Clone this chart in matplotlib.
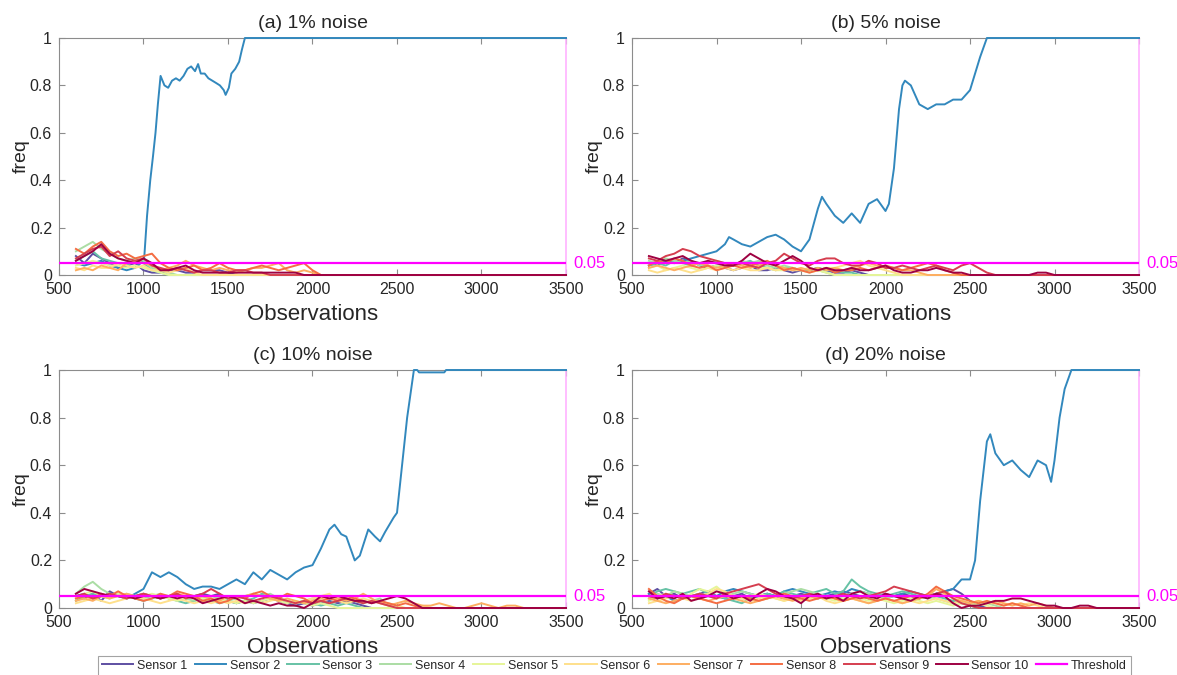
import numpy as np
import matplotlib
matplotlib.use("Agg")
import matplotlib.pyplot as plt

plt.rcParams["font.family"] = ["Liberation Sans", "DejaVu Sans"]

# ---------------------------------------------------------------- data
titles = ["(a) 1% noise", "(b) 5% noise", "(c) 10% noise", "(d) 20% noise"]
sensor_labels = [f"Sensor {i}" for i in range(1, 11)]
sensor_colors = ["#5e4fa2", "#3288bd", "#66c2a5", "#abdda4", "#e6f598",
                 "#fee08b", "#fdae61", "#f46d43", "#d53e4f", "#9e0142"]
threshold = 0.05
obs_start, obs_step, obs_end = 600, 50, 3500

# Sensor 2 (the faulty sensor), explicit observation / frequency pairs
a_s2_obs = [600, 650, 700, 750, 800, 850, 900, 950, 1000, 1005, 1021, 1040, 1056, 1071,
            1085, 1101, 1124, 1146, 1169, 1192, 1214, 1237, 1260, 1282, 1305, 1323, 1339,
            1362, 1384, 1407, 1430, 1452, 1475, 1486, 1505, 1520, 1543, 1566, 1582, 1600, 3500]
a_s2_freq = [0.05, 0.04, 0.05, 0.06, 0.04, 0.03, 0.02, 0.03, 0.06, 0.08, 0.25, 0.40, 0.50, 0.60,
             0.72, 0.84, 0.80, 0.79, 0.82, 0.83, 0.82, 0.84, 0.87, 0.88, 0.86, 0.89, 0.85,
             0.85, 0.83, 0.82, 0.81, 0.80, 0.78, 0.76, 0.79, 0.85, 0.87, 0.90, 0.95, 1.0, 1.0]

b_s2_obs = [600, 650, 700, 750, 800, 850, 900, 950, 1000, 1050, 1074, 1100, 1150, 1200, 1250,
            1300, 1350, 1400, 1450, 1500, 1550, 1600, 1624, 1650, 1700, 1750, 1800, 1850,
            1900, 1950, 2000, 2020, 2050, 2080, 2100, 2115, 2150, 2200, 2250, 2300, 2350,
            2400, 2450, 2500, 2530, 2560, 2600, 3500]
b_s2_freq = [0.04, 0.05, 0.06, 0.05, 0.06, 0.07, 0.08, 0.09, 0.10, 0.13, 0.16, 0.15, 0.13, 0.12,
             0.14, 0.16, 0.17, 0.15, 0.12, 0.10, 0.15, 0.28, 0.33, 0.30, 0.25, 0.22, 0.26, 0.22,
             0.30, 0.32, 0.27, 0.30, 0.45, 0.70, 0.80, 0.82, 0.80, 0.72, 0.70, 0.72, 0.72,
             0.74, 0.74, 0.78, 0.85, 0.92, 1.0, 1.0]

c_s2_obs = [600, 650, 700, 750, 800, 850, 900, 950, 1000, 1050, 1100, 1150, 1200, 1250, 1300,
            1350, 1400, 1450, 1500, 1550, 1600, 1650, 1700, 1750, 1800, 1850, 1900, 1950,
            2000, 2050, 2100, 2130, 2170, 2200, 2250, 2280, 2330, 2370, 2400, 2430, 2480,
            2500, 2530, 2560, 2600, 2620, 2630, 2780, 2790, 3500]
c_s2_freq = [0.05, 0.06, 0.04, 0.05, 0.06, 0.05, 0.04, 0.06, 0.08, 0.15, 0.13, 0.15, 0.13, 0.10,
             0.08, 0.09, 0.09, 0.08, 0.10, 0.12, 0.10, 0.15, 0.12, 0.16, 0.14, 0.12, 0.15, 0.17,
             0.18, 0.25, 0.33, 0.35, 0.31, 0.30, 0.20, 0.22, 0.33, 0.30, 0.28, 0.32, 0.38,
             0.40, 0.60, 0.80, 1.0, 1.0, 0.99, 0.99, 1.0, 1.0]

d_s2_obs = [600, 650, 700, 750, 800, 850, 900, 950, 1000, 1050, 1100, 1150, 1200, 1250, 1300,
            1350, 1400, 1450, 1500, 1550, 1600, 1650, 1700, 1750, 1800, 1850, 1900, 1950,
            2000, 2050, 2100, 2150, 2200, 2250, 2300, 2350, 2400, 2450, 2500, 2530, 2560,
            2600, 2620, 2650, 2700, 2750, 2800, 2850, 2900, 2950, 2980, 3000, 3030, 3060,
            3100, 3500]
d_s2_freq = [0.06, 0.04, 0.05, 0.03, 0.04, 0.05, 0.04, 0.06, 0.05, 0.07, 0.08, 0.07, 0.06, 0.05,
             0.06, 0.05, 0.07, 0.08, 0.07, 0.06, 0.05, 0.06, 0.07, 0.06, 0.08, 0.07, 0.06, 0.05,
             0.04, 0.05, 0.06, 0.07, 0.06, 0.05, 0.06, 0.07, 0.08, 0.12, 0.12, 0.20, 0.45,
             0.70, 0.73, 0.65, 0.60, 0.62, 0.58, 0.55, 0.62, 0.60, 0.53, 0.62, 0.80, 0.92,
             1.0, 1.0]

# Remaining sensors (1, 3..10), sampled every 50 observations from 600;
# each series is 0 after its last listed value.
a_others = [
    [0.08, 0.05, 0.09, 0.07, 0.05, 0.03, 0.04, 0.05, 0.02, 0.01, 0.01, 0.02, 0.02, 0.01, 0.01,
     0.02, 0.02, 0.02, 0.01, 0.0],
    [0.06, 0.08, 0.10, 0.07, 0.06, 0.05, 0.04, 0.06, 0.05, 0.02, 0.01, 0.0],
    [0.10, 0.12, 0.14, 0.11, 0.09, 0.07, 0.06, 0.07, 0.06, 0.03, 0.02, 0.01, 0.0],
    [0.04, 0.05, 0.06, 0.05, 0.04, 0.04, 0.03, 0.04, 0.03, 0.02, 0.01, 0.0],
    [0.03, 0.02, 0.04, 0.03, 0.03, 0.05, 0.04, 0.03, 0.04, 0.02, 0.02, 0.01, 0.02, 0.03, 0.01,
     0.0],
    [0.02, 0.03, 0.02, 0.04, 0.03, 0.02, 0.05, 0.06, 0.05, 0.04, 0.02, 0.03, 0.04, 0.06, 0.04,
     0.03, 0.02, 0.03, 0.02, 0.01, 0.02, 0.03, 0.03, 0.04, 0.05, 0.02, 0.01, 0.02, 0.01, 0.0],
    [0.11, 0.09, 0.12, 0.14, 0.10, 0.08, 0.09, 0.07, 0.08, 0.09, 0.05, 0.03, 0.02, 0.03, 0.04,
     0.02, 0.03, 0.05, 0.03, 0.02, 0.02, 0.03, 0.04, 0.03, 0.02, 0.03, 0.04, 0.05, 0.02, 0.0],
    [0.07, 0.09, 0.11, 0.12, 0.08, 0.10, 0.07, 0.06, 0.07, 0.04, 0.03, 0.02, 0.03, 0.02, 0.01,
     0.02, 0.02, 0.01, 0.01, 0.02, 0.02, 0.01, 0.01, 0.0],
    [0.06, 0.08, 0.10, 0.13, 0.09, 0.07, 0.06, 0.05, 0.07, 0.05, 0.02, 0.02, 0.03, 0.04, 0.02,
     0.01, 0.01, 0.01, 0.01, 0.01, 0.01, 0.01, 0.01, 0.01, 0.01, 0.01, 0.01, 0.0],
]

b_others = [
    [0.05, 0.04, 0.06, 0.05, 0.07, 0.06, 0.04, 0.03, 0.04, 0.03, 0.02, 0.03, 0.04, 0.02, 0.02,
     0.03, 0.02, 0.01, 0.02, 0.02, 0.03, 0.02, 0.01, 0.01, 0.02, 0.01, 0.0],
    [0.04, 0.05, 0.04, 0.06, 0.05, 0.04, 0.05, 0.03, 0.04, 0.05, 0.04, 0.05, 0.06, 0.04, 0.03,
     0.02, 0.03, 0.03, 0.02, 0.02, 0.03, 0.02, 0.02, 0.01, 0.01, 0.0],
    [0.06, 0.05, 0.07, 0.06, 0.05, 0.06, 0.04, 0.05, 0.06, 0.05, 0.04, 0.06, 0.05, 0.06, 0.04,
     0.03, 0.04, 0.03, 0.02, 0.03, 0.02, 0.01, 0.0],
    [0.03, 0.04, 0.02, 0.03, 0.04, 0.03, 0.02, 0.03, 0.04, 0.03, 0.04, 0.05, 0.04, 0.03, 0.03,
     0.02, 0.02, 0.03, 0.02, 0.01, 0.02, 0.01, 0.0],
    [0.02, 0.01, 0.02, 0.03, 0.02, 0.01, 0.02, 0.03, 0.02, 0.03, 0.02, 0.03, 0.02, 0.02, 0.03,
     0.02, 0.03, 0.02, 0.02, 0.03, 0.02, 0.03, 0.03, 0.04, 0.05, 0.06, 0.04, 0.03, 0.02, 0.01,
     0.0],
    [0.03, 0.04, 0.03, 0.02, 0.03, 0.04, 0.05, 0.04, 0.03, 0.04, 0.05, 0.04, 0.03, 0.04, 0.05,
     0.04, 0.03, 0.02, 0.03, 0.02, 0.03, 0.02, 0.03, 0.02, 0.03, 0.04, 0.05, 0.04, 0.03, 0.03,
     0.02, 0.02, 0.01, 0.0],
    [0.04, 0.06, 0.05, 0.07, 0.06, 0.04, 0.03, 0.04, 0.02, 0.03, 0.04, 0.03, 0.04, 0.05, 0.06,
     0.04, 0.02, 0.03, 0.02, 0.01, 0.02, 0.03, 0.01, 0.02, 0.02, 0.03, 0.02, 0.03, 0.04, 0.03,
     0.02, 0.03, 0.04, 0.05, 0.04, 0.02, 0.01, 0.0],
    [0.07, 0.06, 0.08, 0.09, 0.11, 0.10, 0.08, 0.07, 0.06, 0.05, 0.04, 0.05, 0.04, 0.03, 0.05,
     0.06, 0.09, 0.07, 0.05, 0.04, 0.06, 0.07, 0.07, 0.05, 0.04, 0.04, 0.06, 0.05, 0.03, 0.03,
     0.04, 0.03, 0.02, 0.03, 0.04, 0.03, 0.02, 0.04, 0.05, 0.03, 0.01, 0.0],
    [0.08, 0.07, 0.06, 0.07, 0.08, 0.06, 0.05, 0.06, 0.05, 0.04, 0.04, 0.06, 0.09, 0.07, 0.05,
     0.04, 0.06, 0.08, 0.06, 0.03, 0.02, 0.03, 0.02, 0.02, 0.03, 0.02, 0.02, 0.03, 0.04, 0.02,
     0.01, 0.01, 0.02, 0.02, 0.03, 0.02, 0.01, 0.01, 0.0, 0.0, 0.0, 0.0, 0.0, 0.0, 0.0, 0.0,
     0.01, 0.01, 0.0],
]

c_others = [
    [0.05, 0.04, 0.06, 0.03, 0.07, 0.05, 0.04, 0.05, 0.06, 0.05, 0.04, 0.05, 0.06, 0.04, 0.05,
     0.06, 0.05, 0.06, 0.03, 0.02, 0.03, 0.02, 0.03, 0.04, 0.03, 0.02, 0.01, 0.02, 0.01, 0.02,
     0.03, 0.02, 0.03, 0.02, 0.01, 0.0],
    [0.03, 0.05, 0.06, 0.05, 0.04, 0.06, 0.05, 0.04, 0.03, 0.04, 0.05, 0.04, 0.03, 0.02, 0.03,
     0.04, 0.03, 0.02, 0.03, 0.02, 0.03, 0.04, 0.06, 0.05, 0.04, 0.03, 0.02, 0.03, 0.02, 0.01,
     0.02, 0.01, 0.02, 0.01, 0.0],
    [0.06, 0.09, 0.11, 0.08, 0.06, 0.05, 0.06, 0.05, 0.04, 0.05, 0.06, 0.04, 0.05, 0.04, 0.03,
     0.04, 0.05, 0.04, 0.03, 0.04, 0.05, 0.06, 0.05, 0.06, 0.04, 0.03, 0.02, 0.03, 0.04, 0.03,
     0.02, 0.03, 0.04, 0.03, 0.02, 0.03, 0.04, 0.01, 0.0],
    [0.04, 0.06, 0.07, 0.05, 0.04, 0.06, 0.05, 0.04, 0.05, 0.06, 0.05, 0.04, 0.03, 0.04, 0.05,
     0.04, 0.03, 0.04, 0.03, 0.02, 0.03, 0.02, 0.03, 0.04, 0.03, 0.02, 0.03, 0.02, 0.01, 0.02,
     0.01, 0.0],
    [0.02, 0.03, 0.04, 0.03, 0.02, 0.03, 0.04, 0.05, 0.04, 0.03, 0.02, 0.03, 0.04, 0.03, 0.02,
     0.03, 0.02, 0.03, 0.02, 0.03, 0.02, 0.03, 0.02, 0.03, 0.04, 0.03, 0.02, 0.03, 0.04, 0.05,
     0.06, 0.03, 0.02, 0.03, 0.04, 0.03, 0.02, 0.02, 0.01, 0.0, 0.0, 0.01, 0.0],
    [0.03, 0.04, 0.03, 0.05, 0.04, 0.05, 0.06, 0.05, 0.06, 0.05, 0.04, 0.05, 0.06, 0.05, 0.04,
     0.05, 0.04, 0.03, 0.05, 0.04, 0.05, 0.06, 0.05, 0.04, 0.03, 0.04, 0.03, 0.02, 0.03, 0.04,
     0.05, 0.04, 0.03, 0.04, 0.06, 0.04, 0.02, 0.01, 0.02, 0.03, 0.02, 0.01, 0.01, 0.02, 0.01,
     0.0, 0.0, 0.01, 0.02, 0.01, 0.0, 0.01, 0.01, 0.0],
    [0.04, 0.05, 0.04, 0.06, 0.05, 0.07, 0.05, 0.04, 0.03, 0.04, 0.06, 0.05, 0.07, 0.06, 0.05,
     0.03, 0.04, 0.02, 0.03, 0.05, 0.04, 0.06, 0.07, 0.05, 0.04, 0.06, 0.05, 0.04, 0.02, 0.03,
     0.04, 0.03, 0.05, 0.04, 0.03, 0.02, 0.03, 0.02, 0.01, 0.02, 0.01, 0.0],
    [0.05, 0.06, 0.04, 0.05, 0.06, 0.05, 0.04, 0.05, 0.06, 0.05, 0.04, 0.05, 0.06, 0.04, 0.05,
     0.06, 0.08, 0.06, 0.04, 0.05, 0.04, 0.03, 0.04, 0.05, 0.04, 0.03, 0.02, 0.03, 0.02, 0.03,
     0.02, 0.03, 0.04, 0.03, 0.02, 0.03, 0.02, 0.01, 0.0],
    [0.06, 0.08, 0.07, 0.06, 0.05, 0.05, 0.05, 0.04, 0.05, 0.05, 0.04, 0.05, 0.04, 0.05, 0.04,
     0.02, 0.03, 0.04, 0.05, 0.04, 0.02, 0.03, 0.02, 0.01, 0.02, 0.01, 0.01, 0.0, 0.02, 0.05,
     0.04, 0.05, 0.04, 0.03, 0.03, 0.02, 0.03, 0.04, 0.05, 0.04, 0.02, 0.0],
]

d_others = [
    [0.06, 0.08, 0.05, 0.06, 0.04, 0.05, 0.06, 0.07, 0.05, 0.04, 0.05, 0.06, 0.04, 0.05, 0.06,
     0.05, 0.04, 0.05, 0.06, 0.05, 0.04, 0.05, 0.06, 0.07, 0.06, 0.05, 0.04, 0.05, 0.06, 0.05,
     0.06, 0.05, 0.04, 0.05, 0.06, 0.07, 0.08, 0.06, 0.03, 0.01, 0.0],
    [0.05, 0.07, 0.08, 0.07, 0.06, 0.07, 0.08, 0.06, 0.05, 0.04, 0.03, 0.02, 0.04, 0.05, 0.06,
     0.05, 0.07, 0.06, 0.05, 0.06, 0.07, 0.08, 0.06, 0.07, 0.12, 0.09, 0.07, 0.06, 0.05, 0.06,
     0.07, 0.06, 0.05, 0.04, 0.05, 0.04, 0.03, 0.02, 0.01, 0.0],
    [0.04, 0.06, 0.05, 0.07, 0.06, 0.05, 0.06, 0.05, 0.04, 0.05, 0.06, 0.07, 0.06, 0.05, 0.04,
     0.05, 0.06, 0.07, 0.08, 0.07, 0.06, 0.05, 0.04, 0.05, 0.06, 0.07, 0.06, 0.05, 0.04, 0.05,
     0.04, 0.03, 0.04, 0.05, 0.04, 0.03, 0.02, 0.03, 0.02, 0.01, 0.02, 0.01, 0.0],
    [0.03, 0.05, 0.06, 0.05, 0.04, 0.06, 0.08, 0.07, 0.09, 0.06, 0.05, 0.04, 0.05, 0.06, 0.05,
     0.04, 0.03, 0.04, 0.05, 0.04, 0.05, 0.04, 0.03, 0.04, 0.05, 0.04, 0.03, 0.04, 0.03, 0.02,
     0.03, 0.04, 0.03, 0.02, 0.03, 0.02, 0.01, 0.02, 0.01, 0.02, 0.01, 0.0],
    [0.02, 0.03, 0.04, 0.05, 0.04, 0.03, 0.05, 0.06, 0.08, 0.07, 0.05, 0.04, 0.03, 0.04, 0.05,
     0.04, 0.03, 0.04, 0.03, 0.04, 0.05, 0.03, 0.02, 0.03, 0.04, 0.03, 0.02, 0.03, 0.04, 0.03,
     0.02, 0.03, 0.02, 0.03, 0.04, 0.03, 0.02, 0.03, 0.02, 0.03, 0.02, 0.02, 0.01, 0.02, 0.01,
     0.02, 0.01, 0.0],
    [0.04, 0.03, 0.02, 0.03, 0.04, 0.05, 0.04, 0.03, 0.04, 0.05, 0.04, 0.03, 0.02, 0.03, 0.04,
     0.05, 0.04, 0.03, 0.04, 0.05, 0.04, 0.05, 0.04, 0.03, 0.04, 0.03, 0.02, 0.03, 0.04, 0.03,
     0.02, 0.03, 0.04, 0.05, 0.08, 0.06, 0.04, 0.03, 0.02, 0.03, 0.02, 0.03, 0.02, 0.01, 0.02,
     0.01, 0.02, 0.01, 0.0],
    [0.08, 0.05, 0.03, 0.02, 0.04, 0.05, 0.04, 0.03, 0.02, 0.03, 0.04, 0.05, 0.04, 0.03, 0.04,
     0.05, 0.06, 0.05, 0.04, 0.03, 0.04, 0.05, 0.04, 0.03, 0.04, 0.05, 0.04, 0.03, 0.04, 0.03,
     0.04, 0.05, 0.04, 0.06, 0.09, 0.07, 0.05, 0.04, 0.03, 0.02, 0.03, 0.02, 0.01, 0.02, 0.01,
     0.0],
    [0.05, 0.04, 0.06, 0.05, 0.04, 0.05, 0.06, 0.05, 0.04, 0.06, 0.07, 0.08, 0.09, 0.10, 0.08,
     0.06, 0.05, 0.04, 0.05, 0.06, 0.05, 0.04, 0.05, 0.06, 0.05, 0.04, 0.05, 0.06, 0.07, 0.09,
     0.08, 0.07, 0.06, 0.05, 0.06, 0.07, 0.04, 0.02, 0.01, 0.0],
    [0.07, 0.04, 0.05, 0.04, 0.06, 0.03, 0.04, 0.05, 0.07, 0.06, 0.04, 0.05, 0.03, 0.06, 0.08,
     0.07, 0.05, 0.04, 0.02, 0.05, 0.06, 0.04, 0.05, 0.03, 0.06, 0.07, 0.05, 0.04, 0.06, 0.05,
     0.04, 0.03, 0.05, 0.04, 0.06, 0.05, 0.02, 0.0, 0.01, 0.01, 0.02, 0.03, 0.03, 0.04, 0.04,
     0.03, 0.02, 0.01, 0.01, 0.0, 0.0, 0.01, 0.01, 0.0],
]

panel_s2 = [(a_s2_obs, a_s2_freq), (b_s2_obs, b_s2_freq),
            (c_s2_obs, c_s2_freq), (d_s2_obs, d_s2_freq)]
panel_others = [a_others, b_others, c_others, d_others]

# ---------------------------------------------------------------- figure
W, H = 1177, 675
fig = plt.figure(figsize=(W / 100, H / 100), dpi=100)

# axes boxes in pixels: (left, top, right, bottom)
boxes = [(59, 38, 566, 275), (632, 38, 1139, 275),
         (59, 370, 566, 608), (632, 370, 1139, 608)]

text_col = "#262626"
spine_col = "#8c8c8c"
thr_col = "#ff00ff"


def sensor_series(values):
    """Observation grid for a sampled series, held at 0 up to the last observation."""
    x = obs_start + obs_step * np.arange(len(values))
    y = np.asarray(values, dtype=float)
    x = np.append(x, obs_end)
    y = np.append(y, 0.0)
    return x, y


handles = []
for k, (l, t, r, b) in enumerate(boxes):
    ax = fig.add_axes([l / W, 1 - b / H, (r - l) / W, (b - t) / H])
    others = panel_others[k]
    s2x, s2y = panel_s2[k]
    series = []
    oi = 0
    for i in range(10):
        if i == 1:
            series.append((np.asarray(s2x), np.asarray(s2y)))
        else:
            series.append(sensor_series(others[oi]))
            oi += 1
    lines = []
    for i, (x, y) in enumerate(series):
        ln, = ax.plot(x, y, color=sensor_colors[i], lw=1.4, label=sensor_labels[i],
                      zorder=3 + i * 0.01, clip_on=False)
        lines.append(ln)
    th = ax.axhline(threshold, color=thr_col, lw=1.6, zorder=3.5, label="Threshold")
    lines.append(th)
    if k == 0:
        handles = lines

    ax.annotate(f"{threshold:g}", xy=(1, threshold), xycoords=("axes fraction", "data"),
                xytext=(5, 0), textcoords="offset points", color=thr_col,
                fontsize=12, va="center", ha="left")

    ax.set_xlim(500, 3500)
    ax.set_ylim(0, 1)
    ax.set_xticks(np.arange(500, 3501, 500))
    ax.set_yticks(np.arange(0, 1.01, 0.2))
    ax.set_yticklabels([f"{v:g}" for v in np.arange(0, 1.01, 0.2).round(1)])
    ax.tick_params(direction="in", top=True, right=False, length=4, width=0.8,
                   colors=spine_col, labelcolor=text_col, labelsize=11.5, pad=5)
    for side in ["left", "bottom", "top"]:
        ax.spines[side].set_color(spine_col)
        ax.spines[side].set_linewidth(0.8)
    ax.spines["right"].set_color("#ffb3ff")
    ax.spines["right"].set_linewidth(1.2)
    ax.set_title(titles[k], fontsize=14, color=text_col, pad=7)
    ax.set_xlabel("Observations", fontsize=16, color=text_col, labelpad=5)
    ax.set_ylabel("freq", fontsize=14, color=text_col, labelpad=0)

leg = fig.legend(handles=handles, labels=sensor_labels + ["Threshold"],
                 loc="upper center", bbox_to_anchor=(0.522, 1 - 656 / H), ncol=11,
                 fontsize=9, frameon=True, fancybox=False, edgecolor="#8c8c8c",
                 handlelength=2.5, handletextpad=0.3, columnspacing=0.6,
                 borderpad=0.3, borderaxespad=0.0)
leg.get_frame().set_linewidth(0.8)
for txt in leg.get_texts():
    txt.set_color(text_col)

fig.savefig("out.png", dpi=100)
